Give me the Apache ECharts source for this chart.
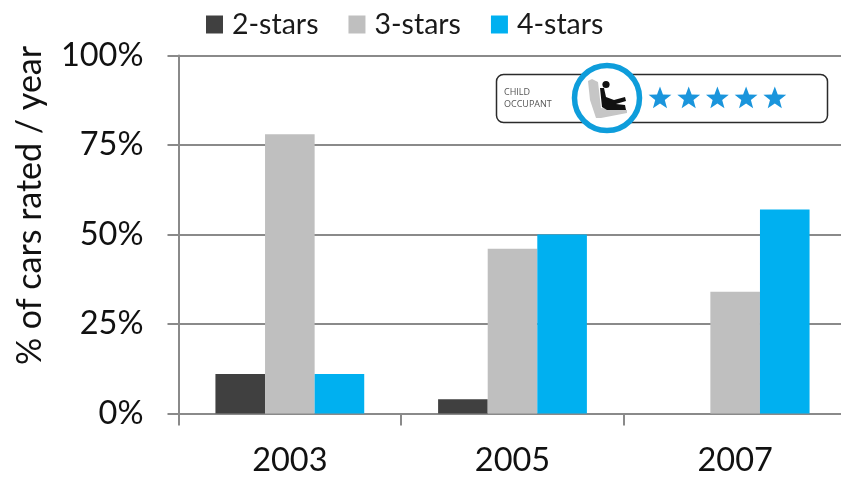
<!DOCTYPE html>
<html>
<head>
<meta charset="utf-8">
<style>html,body{margin:0;padding:0;background:#fff}#c{width:841px;height:477px}</style>
<script src="https://cdn.jsdelivr.net/npm/echarts@6/dist/echarts.min.js"></script>
</head>
<body>
<div id="c"></div>
<script>
const categories = ['2003', '2005', '2007'];
const twoStars = [11, 4, null];
const threeStars = [78, 46, 34];
const fourStars = [11, 50, 57];
const yTicks = [0, 25, 50, 75, 100];
const yTitle = '% of cars rated / year';
const badgeLines = ['CHILD', 'OCCUPANT'];
const starCount = 5;

const font = 'Lato, "Open Sans", sans-serif';
const chart = echarts.init(document.getElementById('c'), null, {renderer: 'canvas'});

function starPoints(cx, cy, R) {
  const pts = [];
  for (let i = 0; i < 10; i++) {
    const r = i % 2 ? R * 0.42 : R;
    const a = -Math.PI / 2 + i * Math.PI / 5;
    pts.push([cx + r * Math.cos(a), cy + r * Math.sin(a)]);
  }
  return pts;
}
const stars = [];
for (let i = 0; i < starCount; i++) {
  stars.push({type: 'polygon', z: 13, shape: {points: starPoints(660 + i * 28.7, 98.5, 12)}, style: {fill: '#1a95dc'}});
}

const badge = [
  {type: 'rect', z: 10, shape: {x: 478, y: 58, width: 363, height: 85.5}, style: {fill: '#fff'}},
  {type: 'rect', z: 11, shape: {x: 496.5, y: 74.5, width: 331, height: 48, r: 7}, style: {fill: '#fff', stroke: '#2b2b2b', lineWidth: 1.5}},
  {type: 'text', z: 12, style: {x: 504, y: 92, text: badgeLines[0], font: '9px "Open Sans", sans-serif', fill: '#555', verticalAlign: 'middle'}},
  {type: 'text', z: 12, style: {x: 504, y: 104, text: badgeLines[1], font: '9px "Open Sans", sans-serif', fill: '#555', verticalAlign: 'middle'}},
  {type: 'circle', z: 12, shape: {cx: 607, cy: 98, r: 32.5}, style: {fill: '#fff', stroke: '#0e9ddb', lineWidth: 5.5}},
  {type: 'polygon', z: 13, shape: {points: [[588, 81], [592, 79], [598, 82], [601, 108], [627, 110], [627, 113], [601, 118], [596, 118], [590, 100]]}, style: {fill: '#c6c6c6'}},
  {type: 'circle', z: 14, shape: {cx: 606, cy: 84.5, r: 3.6}, style: {fill: '#111'}},
  {type: 'polygon', z: 14, shape: {points: [[600, 88], [604, 88], [606, 97], [614, 100], [625, 97], [626, 101], [616, 104], [625, 105], [626, 110], [607, 110], [602, 107]]}, style: {fill: '#111'}},
  ...stars
];

chart.setOption({
  animation: false,
  backgroundColor: '#fff',
  color: ['#404040', '#bfbfbf', '#00b0f0'],
  grid: {left: 178.5, width: 668, top: 55.5, height: 358, containLabel: false, outerBoundsMode: 'none'},
  legend: {
    left: 201, top: 5, itemWidth: 17, itemHeight: 18, itemGap: 30,
    icon: 'rect',
    textStyle: {fontFamily: font, fontSize: 28.5, color: '#1a1a1a', padding: [0, 0, 0, 4]},
    data: ['2-stars', '3-stars', '4-stars']
  },
  xAxis: {
    type: 'category', data: categories,
    axisLine: {lineStyle: {color: '#8a8a8a', width: 2}},
    axisTick: {show: true, length: 12, lineStyle: {color: '#8a8a8a', width: 2}},
    axisLabel: {fontFamily: font, fontSize: 32.5, color: '#111', margin: 31}
  },
  yAxis: {
    type: 'value', min: 0, max: 100, interval: 25,
    name: yTitle, nameLocation: 'middle', nameGap: 131, nameRotate: 90,
    nameTextStyle: {fontFamily: font, fontSize: 34, color: '#111', padding: [0, 0, 0, 58]},
    axisLine: {show: true, lineStyle: {color: '#8a8a8a', width: 2}},
    axisTick: {show: true, length: 11, lineStyle: {color: '#8a8a8a', width: 2}},
    axisLabel: {fontFamily: font, fontSize: 32.5, color: '#111', margin: 35,
      formatter: v => yTicks.includes(v) ? v + '%' : ''},
    splitLine: {show: true, lineStyle: {color: '#8a8a8a', width: 2}}
  },
  series: [
    {name: '2-stars', type: 'bar', data: twoStars, barWidth: 49.6, barGap: 0},
    {name: '3-stars', type: 'bar', data: threeStars, barWidth: 49.6, barGap: 0},
    {name: '4-stars', type: 'bar', data: fourStars, barWidth: 49.6, barGap: 0}
  ],
  graphic: {elements: badge}
});
</script>
</body>
</html>
